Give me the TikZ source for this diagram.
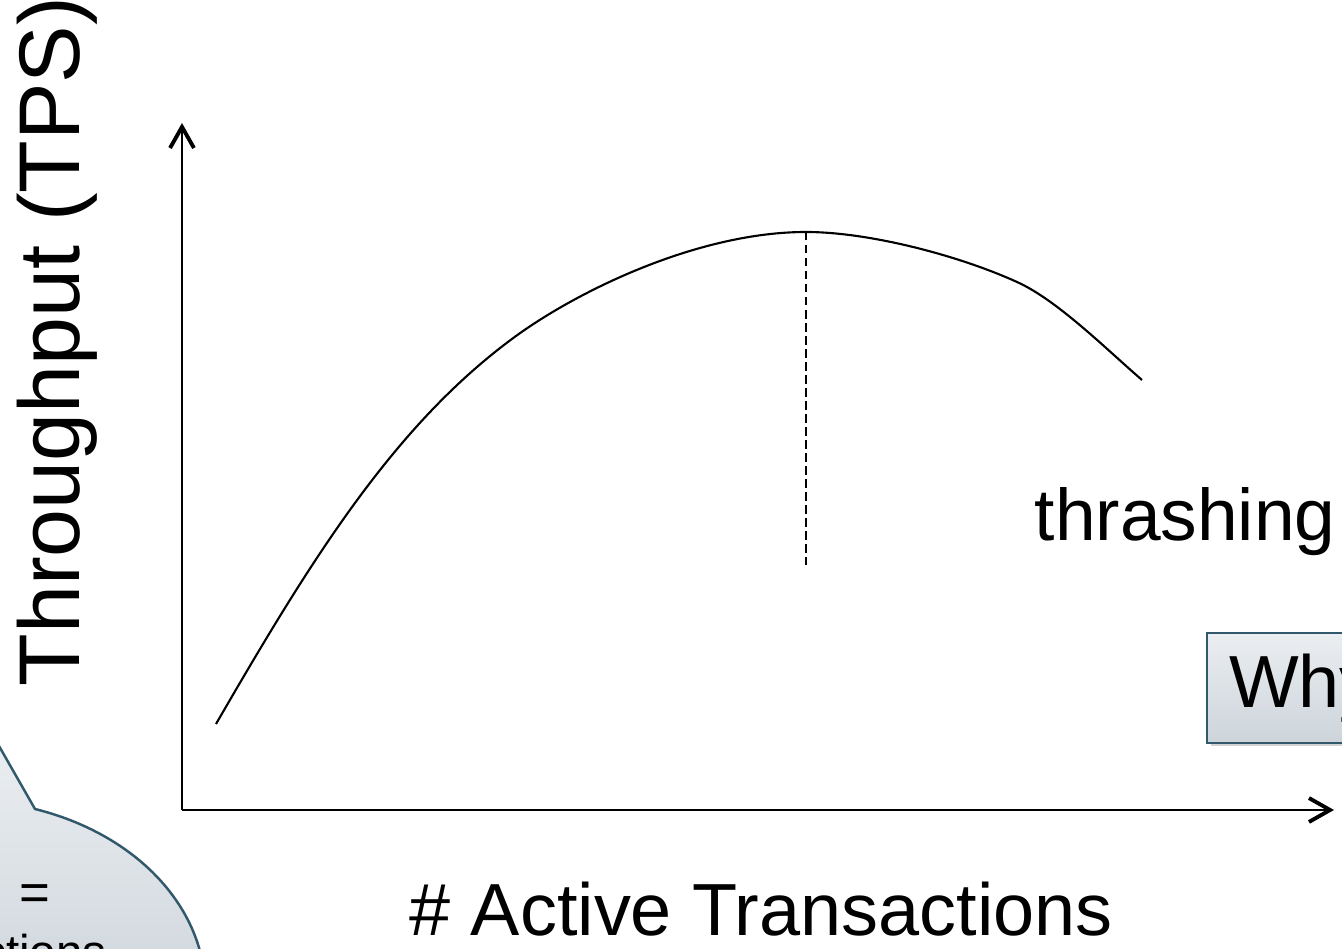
\documentclass[tikz,border=0pt]{standalone}
\usepackage{fontspec}
\setmainfont{Liberation Sans}
\usetikzlibrary{arrows.meta,shadows}
\definecolor{boxline}{HTML}{31596B}
\definecolor{boxtop}{HTML}{EBEEF1}
\definecolor{boxbot}{HTML}{B8C3CB}
\newcommand{\bigfont}{\fontsize{21}{24}\selectfont}
\tikzset{
  lbl/.style={inner sep=0pt,font=\bigfont},
  whybox/.style={draw=boxline,line width=0.6pt,top color=boxtop,bottom color=boxtop!40!boxbot,
    drop shadow={shadow xshift=1pt,shadow yshift=-1pt,opacity=0.35}},
}
\begin{document}
\begin{tikzpicture}[x=0.01cm,y=0.01cm,>={Straight Barb[length=6pt,width=6.8pt,line width=1.1pt]}]
	\clip (0,0) rectangle (1342,948);
	%		axes
	\coordinate (O) at (182,138);
	\coordinate (xend) at (1334,138);
	\coordinate (yend) at (182,825);
	\draw[->,line width=0.6pt] (O)--(xend);
	\draw[->,line width=0.6pt] (O)--(yend);
	\node[lbl,anchor=base] (xlabel) at (761,13) {\# Active Transactions};
	\node[lbl,font=\fontsize{24.5}{28}\selectfont,rotate=90,anchor=base west] (ylabel) at (79,261) {Throughput (TPS)};
	%		throughput curve
	\coordinate (peak) at (806,716);
	\draw[line width=0.6pt] (216,224) .. controls (312,390) and (395,524) .. (516,612)
		.. controls (581,659) and (700,716) .. (peak)
		.. controls (870,716) and (960,692) .. (1017,666)
		.. controls (1057,648) and (1105,600) .. (1142,568);
	\draw[line width=0.45pt,dash pattern=on 2.4pt off 1.3pt] (peak)--(806,383);
	\node[lbl,font=\fontsize{20.8}{24}\selectfont,anchor=base west] (thrash) at (1034,407) {thrashing};
	\node[whybox,lbl,anchor=south west,minimum height=1.1cm,inner xsep=0.22cm,text width=2cm,align=left] (why) at (1206,204) {Why};
	%		callout, cut at the page edge
	\draw[draw=boxline,line width=0.7pt,top color=boxtop,bottom color=boxbot] (-5,209)--(35,139) arc[start angle=72.2,end angle=-260,x radius=245,y radius=190]--cycle;
	\node[inner sep=0pt,font=\fontsize{15}{16}\selectfont,anchor=base] (eqsign) at (35,38) {=};
	\node[inner sep=0pt,font=\fontsize{13.5}{16}\selectfont,anchor=base east] (ctions) at (107,-20) {ctions};
\end{tikzpicture}
\end{document}
